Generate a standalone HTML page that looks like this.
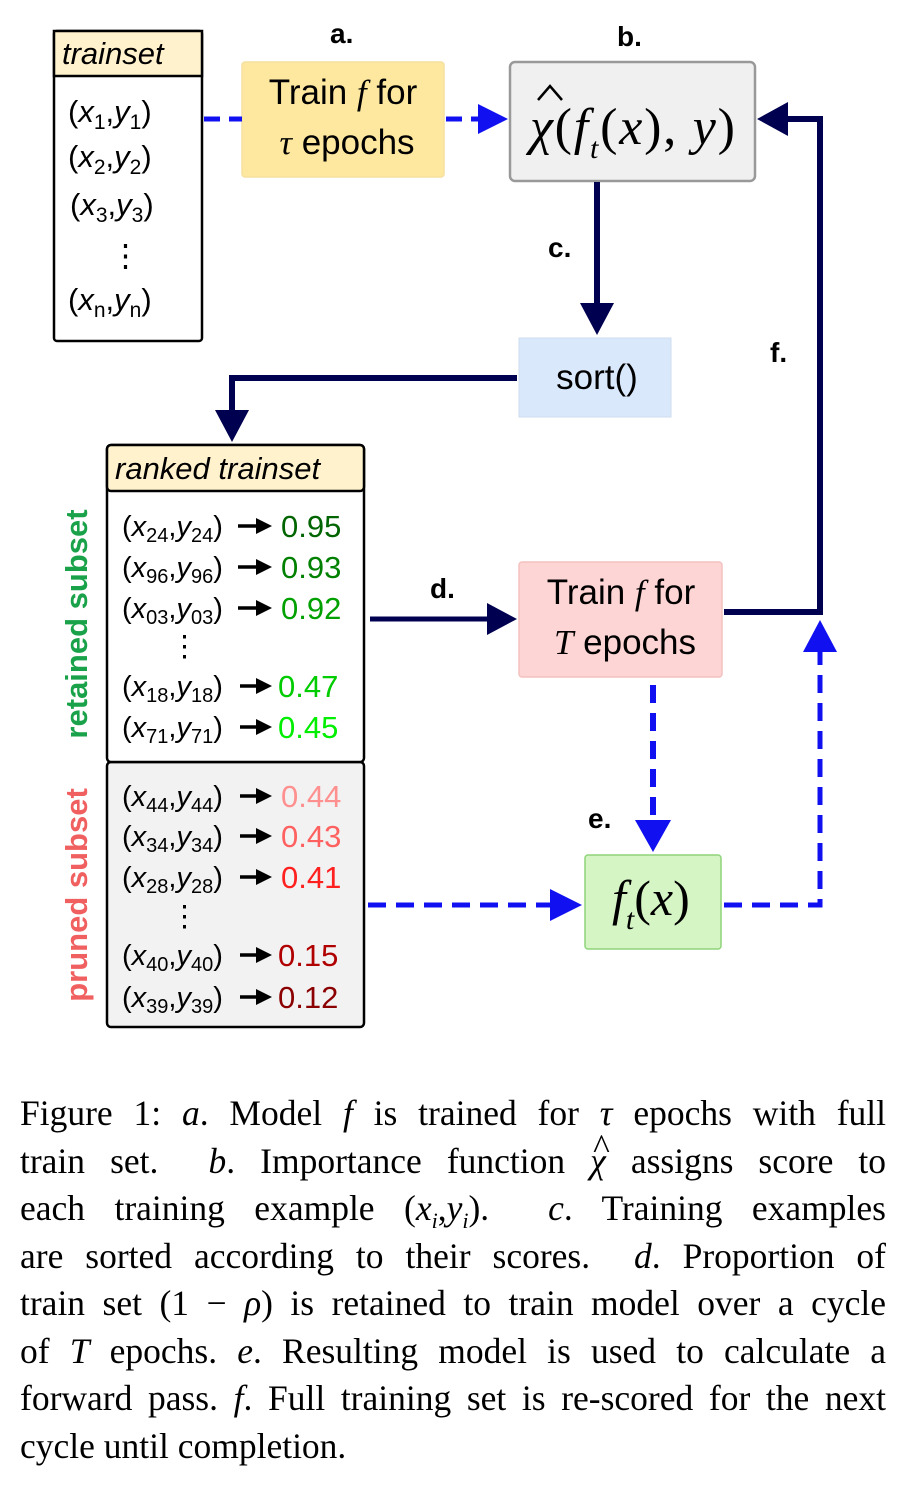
<!DOCTYPE html>
<html><head><meta charset="utf-8"><style>
body{margin:0;background:#fff;width:908px;height:1486px;overflow:hidden;position:relative}
svg{position:absolute;left:0;top:0}
.cap{position:absolute;left:20px;width:866px;font-family:"Liberation Serif",serif;font-size:35.5px;line-height:47.7px;text-align:justify;text-align-last:justify;white-space:nowrap}
.cap i{font-style:italic}
.hat{position:relative;display:inline-block}
.hat b{position:absolute;left:3px;top:-14px;font-weight:normal;font-style:normal}
</style></head><body>
<svg width="908" height="1060" viewBox="0 0 908 1060" font-family="Liberation Sans, sans-serif">
<!-- trainset -->
<rect x="54" y="31" width="148" height="310" rx="3" fill="#fff" stroke="#000" stroke-width="2.5"/>
<rect x="54" y="31" width="148" height="45" fill="#fff2cc" stroke="#000" stroke-width="2.5"/>
<text x="62" y="64" font-size="31" font-style="italic">trainset</text>
<g font-size="31">
<text x="68" y="122">(<tspan font-style="italic">x</tspan><tspan font-size="21" dy="7">1</tspan><tspan dy="-7">,</tspan><tspan font-style="italic">y</tspan><tspan font-size="21" dy="7">1</tspan><tspan dy="-7">)</tspan></text>
<text x="68" y="167">(<tspan font-style="italic">x</tspan><tspan font-size="21" dy="7">2</tspan><tspan dy="-7">,</tspan><tspan font-style="italic">y</tspan><tspan font-size="21" dy="7">2</tspan><tspan dy="-7">)</tspan></text>
<text x="70" y="215">(<tspan font-style="italic">x</tspan><tspan font-size="21" dy="7">3</tspan><tspan dy="-7">,</tspan><tspan font-style="italic">y</tspan><tspan font-size="21" dy="7">3</tspan><tspan dy="-7">)</tspan></text>
<text x="110" y="266">⋮</text>
<text x="68" y="310">(<tspan font-style="italic">x</tspan><tspan font-size="21" dy="7">n</tspan><tspan dy="-7">,</tspan><tspan font-style="italic">y</tspan><tspan font-size="21" dy="7">n</tspan><tspan dy="-7">)</tspan></text>
</g>
<!-- labels -->
<g font-size="28" font-weight="bold">
<text x="330" y="43">a.</text><text x="617" y="46">b.</text><text x="548" y="257">c.</text>
<text x="430" y="598">d.</text><text x="588" y="828">e.</text><text x="770" y="362">f.</text>
</g>
<!-- box a -->
<rect x="242" y="62" width="202" height="115" rx="3" fill="#fee89f" stroke="#f5e0a0" stroke-width="1.5"/>
<text x="343" y="104" font-size="35" text-anchor="middle">Train <tspan font-family="Liberation Serif, serif" font-style="italic">f</tspan> for</text>
<text x="347" y="154" font-size="35" text-anchor="middle"><tspan font-family="Liberation Serif, serif" font-style="italic">τ</tspan> epochs</text>
<path d="M204,119 H242 M446,119 H478" stroke="#1010f0" stroke-width="5" stroke-dasharray="16,9" fill="none"/>
<path d="M478,104 L508,119 L478,134 z" fill="#1010f0"/>
<!-- box b -->
<rect x="510" y="62" width="245" height="119" rx="5" fill="#f0f0f0" stroke="#999" stroke-width="2.5"/>
<text x="530" y="144" font-size="52" font-family="Liberation Serif, serif" font-style="italic" textLength="205">χ<tspan font-style="normal">(</tspan>f<tspan font-size="30" dy="14">t</tspan><tspan dy="-14" font-style="normal">(</tspan>x<tspan font-style="normal">), </tspan>y<tspan font-style="normal">)</tspan></text>
<path d="M538,100 L550,86 L562,100" stroke="#000" stroke-width="2.5" fill="none"/>
<!-- c arrow -->
<path d="M597,182 V305" stroke="#000050" stroke-width="6" fill="none"/>
<path d="M580,303 L597,335 L614,303 z" fill="#000050"/>
<!-- sort -->
<rect x="519" y="338" width="152" height="79" fill="#dae8fc" stroke="#cfdcf0" stroke-width="1"/>
<text x="597" y="389" font-size="35" text-anchor="middle">sort()</text>
<path d="M517,378 H232 V412" stroke="#000050" stroke-width="6" fill="none"/>
<path d="M215,410 L232,442 L249,410 z" fill="#000050"/>
<!-- ranked -->
<rect x="107" y="762" width="257" height="265" rx="4" fill="#f2f2f2" stroke="#000" stroke-width="2.5"/>
<rect x="107" y="445" width="257" height="317" rx="4" fill="#fff" stroke="#000" stroke-width="2.5"/>
<rect x="107" y="445" width="257" height="46" rx="4" fill="#fff2cc" stroke="#000" stroke-width="2.5"/>
<text x="115" y="479" font-size="31" font-style="italic">ranked trainset</text>
<g font-size="29">
<text x="122" y="536">(<tspan font-style="italic">x</tspan><tspan font-size="20" dy="6">24</tspan><tspan dy="-6">,</tspan><tspan font-style="italic">y</tspan><tspan font-size="20" dy="6">24</tspan><tspan dy="-6">)</tspan></text>
<text x="122" y="577">(<tspan font-style="italic">x</tspan><tspan font-size="20" dy="6">96</tspan><tspan dy="-6">,</tspan><tspan font-style="italic">y</tspan><tspan font-size="20" dy="6">96</tspan><tspan dy="-6">)</tspan></text>
<text x="122" y="618">(<tspan font-style="italic">x</tspan><tspan font-size="20" dy="6">03</tspan><tspan dy="-6">,</tspan><tspan font-style="italic">y</tspan><tspan font-size="20" dy="6">03</tspan><tspan dy="-6">)</tspan></text>
<text x="170" y="656">⋮</text>
<text x="122" y="696">(<tspan font-style="italic">x</tspan><tspan font-size="20" dy="6">18</tspan><tspan dy="-6">,</tspan><tspan font-style="italic">y</tspan><tspan font-size="20" dy="6">18</tspan><tspan dy="-6">)</tspan></text>
<text x="122" y="737">(<tspan font-style="italic">x</tspan><tspan font-size="20" dy="6">71</tspan><tspan dy="-6">,</tspan><tspan font-style="italic">y</tspan><tspan font-size="20" dy="6">71</tspan><tspan dy="-6">)</tspan></text>
<text x="122" y="806">(<tspan font-style="italic">x</tspan><tspan font-size="20" dy="6">44</tspan><tspan dy="-6">,</tspan><tspan font-style="italic">y</tspan><tspan font-size="20" dy="6">44</tspan><tspan dy="-6">)</tspan></text>
<text x="122" y="846">(<tspan font-style="italic">x</tspan><tspan font-size="20" dy="6">34</tspan><tspan dy="-6">,</tspan><tspan font-style="italic">y</tspan><tspan font-size="20" dy="6">34</tspan><tspan dy="-6">)</tspan></text>
<text x="122" y="887">(<tspan font-style="italic">x</tspan><tspan font-size="20" dy="6">28</tspan><tspan dy="-6">,</tspan><tspan font-style="italic">y</tspan><tspan font-size="20" dy="6">28</tspan><tspan dy="-6">)</tspan></text>
<text x="170" y="926">⋮</text>
<text x="122" y="965">(<tspan font-style="italic">x</tspan><tspan font-size="20" dy="6">40</tspan><tspan dy="-6">,</tspan><tspan font-style="italic">y</tspan><tspan font-size="20" dy="6">40</tspan><tspan dy="-6">)</tspan></text>
<text x="122" y="1007">(<tspan font-style="italic">x</tspan><tspan font-size="20" dy="6">39</tspan><tspan dy="-6">,</tspan><tspan font-style="italic">y</tspan><tspan font-size="20" dy="6">39</tspan><tspan dy="-6">)</tspan></text>
<g font-size="31">
<text x="281" y="537" fill="#006400">0.95</text>
<text x="281" y="578" fill="#008000">0.93</text>
<text x="281" y="619" fill="#00a000">0.92</text>
<text x="278" y="697" fill="#00cc00">0.47</text>
<text x="278" y="738" fill="#00ee00">0.45</text>
<text x="281" y="807" fill="#ff9090">0.44</text>
<text x="281" y="847" fill="#ff6060">0.43</text>
<text x="281" y="888" fill="#ff2020">0.41</text>
<text x="278" y="966" fill="#b00000">0.15</text>
<text x="278" y="1008" fill="#8b0000">0.12</text>
</g>
<g stroke="#000" stroke-width="3.5" fill="none">
<path d="M238,526 H258 M238,567 H258 M238,608 H258 M240,686 H258 M240,727 H258 M240,796 H258 M240,836 H258 M240,877 H258 M240,955 H258 M240,997 H258"/>
</g>
<g fill="#000">
<path d="M256,518 L272,526 L256,534z M256,559 L272,567 L256,575z M256,600 L272,608 L256,616z M256,678 L272,686 L256,694z M256,719 L272,727 L256,735z M256,788 L272,796 L256,804z M256,828 L272,836 L256,844z M256,869 L272,877 L256,885z M256,947 L272,955 L256,963z M256,989 L272,997 L256,1005z"/>
</g>
</g>
<text transform="translate(87,624) rotate(-90)" font-size="31" font-weight="bold" fill="#1aa24a" text-anchor="middle">retained subset</text>
<text transform="translate(87,895) rotate(-90)" font-size="31" font-weight="bold" fill="#f06060" text-anchor="middle">pruned subset</text>
<path d="M370,619 H490" stroke="#000050" stroke-width="5" fill="none"/>
<path d="M487,603 L517,619 L487,635 z" fill="#000050"/>
<rect x="519" y="562" width="203" height="115" rx="3" fill="#fcd5d4" stroke="#f3c2c0" stroke-width="1.5"/>
<text x="621" y="604" font-size="35" text-anchor="middle">Train <tspan font-family="Liberation Serif, serif" font-style="italic">f</tspan> for</text>
<text x="625" y="654" font-size="35" text-anchor="middle"><tspan font-family="Liberation Serif, serif" font-style="italic">T</tspan> epochs</text>
<path d="M724,612 H820 V119 H785" stroke="#000050" stroke-width="6" fill="none"/>
<path d="M788,102 L757,119 L788,136 z" fill="#000050"/>
<path d="M653,685 V822" stroke="#1010f0" stroke-width="6" stroke-dasharray="18,10" fill="none"/>
<path d="M635,820 L653,852 L671,820 z" fill="#1010f0"/>
<rect x="585" y="855" width="136" height="94" rx="3" fill="#d5f5c5" stroke="#8fd47a" stroke-width="1.5"/>
<text x="612" y="915" font-size="50" font-family="Liberation Serif, serif" font-style="italic">f<tspan font-size="30" dy="14">t</tspan><tspan dy="-14" font-style="normal">(</tspan>x<tspan font-style="normal">)</tspan></text>
<path d="M368,905 H550" stroke="#1010f0" stroke-width="5" stroke-dasharray="18,10" fill="none"/>
<path d="M550,889 L582,905 L550,921 z" fill="#1010f0"/>
<path d="M724,905 H820 V650" stroke="#1010f0" stroke-width="5" stroke-dasharray="18,10" fill="none"/>
<path d="M803,652 L820,620 L837,652 z" fill="#1010f0"/>
</svg>
<div class="cap" style="top:1090px">Figure 1: <i>a</i>. Model <i>f</i> is trained for <i>τ</i> epochs with full</div>
<div class="cap" style="top:1138px">train set. &nbsp;<i>b</i>. Importance function <span class="hat"><i>χ</i><b>^</b></span> assigns score to</div>
<div class="cap" style="top:1185px">each training example (<i>x<sub style="font-size:22px">i</sub></i>,<i>y<sub style="font-size:22px">i</sub></i>). &nbsp;<i>c</i>. Training examples</div>
<div class="cap" style="top:1233px">are sorted according to their scores. &nbsp;<i>d</i>. Proportion of</div>
<div class="cap" style="top:1280px">train set (1 − <i>ρ</i>) is retained to train model over a cycle</div>
<div class="cap" style="top:1328px">of <i>T</i> epochs. <i>e</i>. Resulting model is used to calculate a</div>
<div class="cap" style="top:1375px">forward pass. <i>f</i>. Full training set is re-scored for the next</div>
<div class="cap" style="top:1423px;text-align-last:left">cycle until completion.</div>
</body></html>
